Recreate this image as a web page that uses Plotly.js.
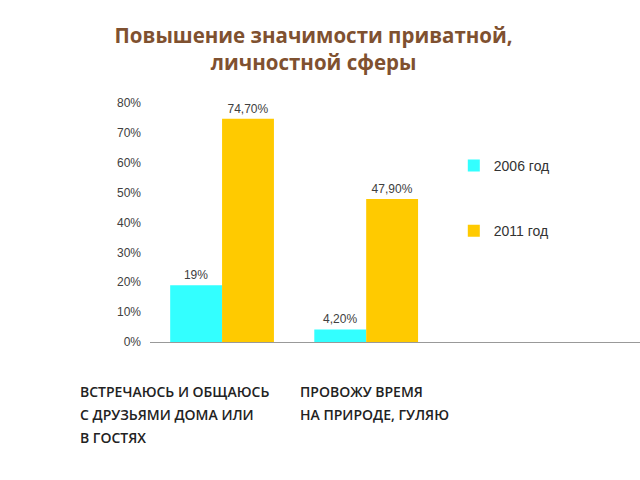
<!DOCTYPE html>
<html><head><meta charset="utf-8">
<script src="https://cdn.plot.ly/plotly-3.0.1.min.js"></script>
<style>body{margin:0;background:#fff}#c{width:640px;height:480px}</style>
</head><body><div id="c"></div>
<script>
const categories = ["ВСТРЕЧАЮСЬ И ОБЩАЮСЬ<br>С ДРУЗЬЯМИ ДОМА ИЛИ<br>В ГОСТЯХ", "ПРОВОЖУ ВРЕМЯ<br>НА ПРИРОДЕ, ГУЛЯЮ"];
const seriesNames = ["2006 год", "2011 год"];
const values2006 = [19, 4.2];
const values2011 = [74.7, 47.9];
const labels2006 = ["19%", "4,20%"];
const labels2011 = ["74,70%", "47,90%"];
const yTicks = [0, 10, 20, 30, 40, 50, 60, 70, 80];
const yTickText = ["0%", "10%", "20%", "30%", "40%", "50%", "60%", "70%", "80%"];

const xIdx = categories.map((c, i) => i);
const tf = {family: "Liberation Sans, Arial, sans-serif", size: 12, color: "#404040"};
const traces = [
  {type: "bar", x: xIdx, y: values2006, name: seriesNames[0], text: labels2006, textposition: "outside",
   textfont: tf, cliponaxis: false, marker: {color: "#33FFFF"}, legendgroup: "a"},
  {type: "bar", x: xIdx, y: values2011, name: seriesNames[1], text: labels2011, textposition: "outside",
   textfont: tf, cliponaxis: false, marker: {color: "#FFCA00"}, legendgroup: "b"}
];
const catX = [-0.147, 0.302];
const annotations = [];
categories.forEach((c, i) => {
  c.split("<br>").forEach((line, j) => {
    annotations.push({
      text: line, xref: "paper", yref: "paper", x: catX[i], y: (342 - 391 - 23 * j) / 239,
      xanchor: "left", yanchor: "middle", align: "left", showarrow: false,
      font: {family: "Open Sans, sans-serif", size: 14, color: "#222", weight: 600}
    });
  });
});
const layout = {
  width: 640, height: 480,
  margin: {l: 150, r: 0, t: 103, b: 138},
  paper_bgcolor: "#fff", plot_bgcolor: "#fff",
  barmode: "group", bargap: 0.28, bargroupgap: 0,
  title: {text: "Повышение значимости приватной,<br>личностной сферы",
    font: {family: "Open Sans, sans-serif", size: 20.5, color: "#7F5130", weight: 700},
    x: 0.49, xref: "container", xanchor: "center", y: 0.91, yanchor: "top"},
  xaxis: {range: [-0.5, 2.9], tickvals: [], showgrid: false, zeroline: false,
    showline: true, linecolor: "#999", linewidth: 1, fixedrange: true},
  yaxis: {range: [0, 80], tickvals: yTicks, ticktext: yTickText, showgrid: false, zeroline: false,
    showline: false, ticks: "", ticklabelstandoff: 8, tickfont: tf},
  showlegend: true,
  legend: {x: 0.62, xanchor: "left", y: 0.804, yanchor: "top", tracegroupgap: 44,
    font: {family: "Liberation Sans, Arial, sans-serif", size: 14, color: "#333"},
    itemwidth: 30, bgcolor: "rgba(0,0,0,0)"},
  annotations: annotations
};
Plotly.newPlot("c", traces, layout, {displayModeBar: false, staticPlot: true});
</script></body></html>
